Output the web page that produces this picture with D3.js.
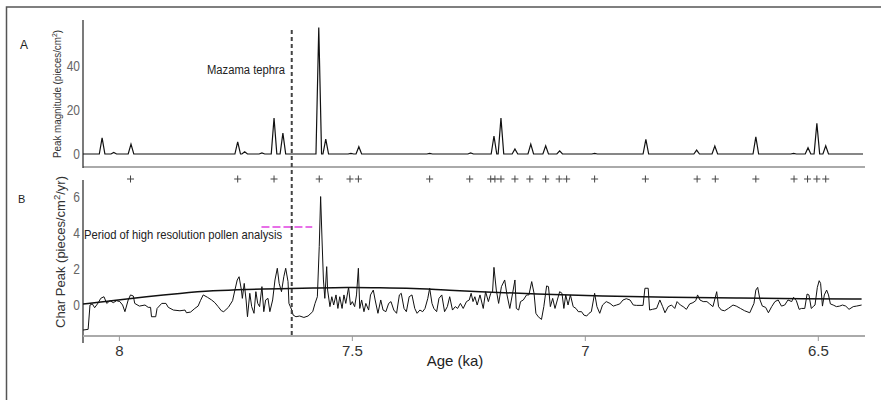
<!DOCTYPE html>
<html lang="en">
<head>
<meta charset="UTF-8" />
<title>Charcoal peaks</title>
<script src="https://d3js.org/d3.v7.min.js"></script>
<style>
  html, body { margin: 0; padding: 0; background: #fff; }
  svg { display: block; }
  text { font-family: "Liberation Sans", Arial, sans-serif; }
</style>
</head>
<body>
<svg id="chart" width="881" height="400"></svg>
<script>
// == DATA ==
// x domain (age, ka), reversed: old on the left
const ageDomain = [8.077, 6.403];
const ageTicks = [8, 7.5, 7, 6.5];

// panel A: peak magnitudes (pieces/cm2)
const peakAges = [8.036, 8.011, 7.974, 7.745, 7.730, 7.693, 7.667, 7.648, 7.571, 7.556, 7.502, 7.485,
  7.333, 7.245, 7.195, 7.180, 7.150, 7.116, 7.084, 7.054, 6.979, 6.869, 6.760, 6.721, 6.633,
  6.552, 6.521, 6.502, 6.483];
const peakMags = [7.3, 0.7, 4.5, 5.5, 1.0, 0.5, 16.4, 9.5, 57.5, 6.8, 0.3, 3.3,
  0.3, 0.5, 8.2, 16.4, 2.3, 4.5, 3.7, 1.4, 0.3, 6.7, 1.8, 3.6, 7.8,
  0.3, 2.9, 14.0, 3.7];
const magTicks = [0, 20, 40];

// significant peak markers (+)
const markerAges = [7.975, 7.745, 7.667, 7.570, 7.504, 7.486, 7.333, 7.247, 7.202, 7.193, 7.180,
  7.150, 7.118, 7.084, 7.055, 7.039, 6.979, 6.870, 6.759, 6.720, 6.633, 6.551, 6.522, 6.502, 6.483];

// panel B: charcoal peak series [age, value]
const charSeries = [
  [8.077,-1.39],[8.066,-1.35],[8.062,0.00],[8.057,0.06],[8.052,-0.15],[8.044,0.13],[8.039,0.37],[8.032,0.46],
  [8.026,0.09],[8.019,0.24],[8.012,0.13],[8.005,0.24],[7.998,0.19],[7.992,0.00],[7.987,-0.37],[7.980,0.28],
  [7.975,0.56],[7.969,0.50],[7.966,0.09],[7.956,-0.06],[7.944,0.00],[7.937,-0.13],[7.932,-0.13],[7.930,-0.65],
  [7.921,-0.65],[7.918,-0.19],[7.908,0.09],[7.899,0.09],[7.894,-0.13],[7.883,-0.28],[7.869,-0.32],[7.858,-0.28],
  [7.855,-0.43],[7.846,-0.39],[7.837,-0.19],[7.830,-0.06],[7.825,0.24],[7.819,0.56],[7.810,0.43],[7.801,0.28],
  [7.794,0.13],[7.787,-0.09],[7.780,-0.32],[7.775,-0.37],[7.765,-0.13],[7.756,0.24],[7.751,0.83],[7.746,1.39],
  [7.742,1.57],[7.737,0.83],[7.735,0.37],[7.731,1.20],[7.727,0.28],[7.724,-0.65],[7.719,0.65],[7.715,-0.09],
  [7.710,-0.46],[7.706,0.74],[7.702,0.09],[7.698,-0.09],[7.693,1.02],[7.689,-0.37],[7.685,0.28],[7.680,0.37],
  [7.676,-0.37],[7.670,0.28],[7.665,1.39],[7.660,2.04],[7.656,1.20],[7.651,0.74],[7.646,1.57],[7.642,2.04],
  [7.637,1.30],[7.635,0.09],[7.632,-0.09],[7.629,-0.28],[7.626,-0.56],[7.620,-0.65],[7.612,-0.61],[7.603,-0.69],
  [7.594,-0.61],[7.584,-0.37],[7.579,0.09],[7.574,0.46],[7.570,3.24],[7.567,6.02],[7.564,3.61],[7.561,1.39],
  [7.558,0.37],[7.554,2.13],[7.552,0.83],[7.547,-0.09],[7.543,0.46],[7.539,0.00],[7.534,0.56],[7.530,-0.19],
  [7.526,0.46],[7.521,-0.19],[7.517,0.56],[7.513,0.09],[7.507,0.98],[7.503,0.00],[7.499,0.19],[7.494,-0.09],
  [7.490,0.56],[7.486,2.04],[7.483,-0.19],[7.479,0.28],[7.474,-0.37],[7.470,0.09],[7.464,-0.28],[7.460,0.56],
  [7.454,0.83],[7.450,0.28],[7.444,-0.46],[7.438,0.28],[7.433,-0.28],[7.427,-0.37],[7.421,0.09],[7.416,0.19],
  [7.410,-0.28],[7.404,-0.46],[7.398,0.56],[7.394,0.65],[7.388,-0.19],[7.383,-0.37],[7.377,0.46],[7.371,0.56],
  [7.365,-0.19],[7.360,-0.46],[7.354,-0.28],[7.348,-0.37],[7.343,-0.19],[7.337,0.37],[7.333,0.93],[7.328,0.09],
  [7.324,-0.19],[7.318,-0.37],[7.313,0.37],[7.307,0.56],[7.301,-0.37],[7.295,-0.09],[7.290,0.46],[7.284,-0.28],
  [7.278,-0.09],[7.273,-0.19],[7.267,0.09],[7.261,-0.19],[7.254,0.19],[7.248,0.28],[7.244,0.65],[7.240,0.19],
  [7.236,0.46],[7.231,0.00],[7.225,0.56],[7.218,-0.19],[7.213,0.74],[7.207,0.19],[7.202,0.65],[7.198,0.74],
  [7.195,2.09],[7.190,0.83],[7.185,0.09],[7.179,1.02],[7.172,1.39],[7.167,0.56],[7.161,-0.19],[7.155,0.65],
  [7.150,1.39],[7.147,-0.19],[7.142,-0.28],[7.138,0.19],[7.132,0.28],[7.125,0.56],[7.120,0.56],[7.114,1.30],
  [7.109,0.65],[7.105,-0.46],[7.100,-0.65],[7.093,-0.80],[7.088,-0.09],[7.082,1.06],[7.078,1.02],[7.074,-0.09],
  [7.069,0.37],[7.064,-0.19],[7.059,0.28],[7.054,0.74],[7.049,0.65],[7.045,-0.19],[7.041,0.56],[7.036,0.00],
  [7.031,0.56],[7.025,-0.09],[7.019,-0.19],[7.014,-0.37],[7.007,-0.37],[7.002,-0.56],[6.996,-0.61],[6.991,-0.46],
  [6.986,-0.37],[6.979,0.65],[6.974,-0.09],[6.968,-0.46],[6.962,0.00],[6.954,0.19],[6.946,0.09],[6.939,-0.06],
  [6.932,0.00],[6.925,0.06],[6.918,0.28],[6.911,0.35],[6.903,0.28],[6.896,0.00],[6.889,-0.02],[6.875,-0.02],
  [6.871,0.93],[6.864,0.93],[6.861,-0.28],[6.855,-0.24],[6.846,-0.19],[6.839,0.28],[6.833,-0.09],[6.828,-0.43],
  [6.821,-0.09],[6.814,0.00],[6.807,-0.19],[6.802,0.19],[6.795,0.00],[6.789,-0.09],[6.782,-0.24],[6.775,0.06],
  [6.768,0.13],[6.762,0.24],[6.758,0.56],[6.753,0.28],[6.746,0.19],[6.738,0.19],[6.732,0.06],[6.725,-0.09],
  [6.717,0.74],[6.713,-0.09],[6.707,-0.28],[6.700,-0.32],[6.692,-0.19],[6.682,0.00],[6.675,-0.06],[6.666,-0.19],
  [6.657,-0.32],[6.646,-0.43],[6.637,0.09],[6.633,0.83],[6.629,0.98],[6.624,0.28],[6.619,-0.06],[6.612,-0.13],
  [6.606,-0.43],[6.599,-0.09],[6.592,0.19],[6.585,0.28],[6.578,-0.06],[6.571,0.00],[6.564,0.28],[6.556,0.19],
  [6.552,0.43],[6.546,0.24],[6.540,-0.24],[6.535,-0.19],[6.528,-0.19],[6.523,0.61],[6.519,0.56],[6.514,-0.19],
  [6.510,-0.09],[6.506,0.00],[6.501,0.98],[6.497,1.35],[6.494,1.20],[6.490,-0.06],[6.486,0.56],[6.481,0.83],
  [6.477,0.56],[6.473,0.06],[6.467,0.00],[6.460,-0.09],[6.453,-0.06],[6.447,0.00],[6.440,-0.06],[6.433,-0.24],
  [6.424,-0.09],[6.417,-0.06],[6.406,0.00]
];

// panel B: background (smoothed) curve
const backgroundSeries = [
  [8.077,0.06],[8.012,0.24],[7.941,0.46],[7.869,0.65],[7.798,0.80],[7.726,0.87],[7.655,0.91],[7.583,0.94],
  [7.511,0.98],[7.440,0.96],[7.368,0.93],[7.297,0.83],[7.236,0.74],[7.104,0.61],[6.961,0.50],[6.818,0.43],
  [6.675,0.39],[6.531,0.35],[6.406,0.33]
];
const charTicks = [0, 2, 4, 6];

const mazamaAge = 7.629;
const pollenPeriod = [7.694, 7.585];
const pollenLevel = 4.33;

// == LAYOUT ==
const svg = d3.select("#chart");

const x = d3.scaleLinear().domain(ageDomain).range([83, 863]);
const yA = d3.scaleLinear().domain([-5.9, 60.9]).range([167, 20]);
const yB = d3.scaleLinear().domain([-1.72, 6.94]).range([336, 180]);

// squeeze a text element to a given width (the original uses a narrow face)
function fitWidth(sel, w) {
  sel.attr("textLength", w).attr("lengthAdjust", "spacingAndGlyphs");
}

// outer frame (top and left edges only)
svg.append("path")
  .attr("d", "M6.5,400 L6.5,7 L881,7")
  .attr("fill", "none").attr("stroke", "#555").attr("stroke-width", 1.5);

// panel letters
svg.append("text").attr("x", 20).attr("y", 49)
  .attr("font-size", 12).attr("fill", "#222").text("A");
svg.append("text").attr("x", 18).attr("y", 203)
  .attr("font-size", 11).attr("fill", "#222").text("B");

// == PANEL A ==
const gA = svg.append("g");

gA.append("line").attr("x1", 83).attr("x2", 865).attr("y1", 167).attr("y2", 167)
  .attr("stroke", "#aaa").attr("stroke-width", 2);
gA.append("line").attr("x1", 83).attr("x2", 83).attr("y1", 20).attr("y2", 168)
  .attr("stroke", "#333").attr("stroke-width", 1.3);

const axA = gA.append("g").attr("transform", "translate(80,0)")
  .call(d3.axisLeft(yA).tickValues(magTicks).tickSize(0).tickPadding(0));
axA.select(".domain").remove();
axA.selectAll("text").attr("font-size", 15).attr("fill", "#666")
  .attr("transform", "scale(0.8,1)");

// build spikes from the peak list
const peakHalf = 0.006;
const peakPts = [[ageDomain[0], 0]];
peakAges.forEach((a, i) => {
  peakPts.push([a + peakHalf, 0], [a, peakMags[i]], [a - peakHalf, 0]);
});
peakPts.push([ageDomain[1], 0]);

gA.append("path")
  .datum(peakPts)
  .attr("fill", "none").attr("stroke", "#111").attr("stroke-width", 1.2)
  .attr("d", d3.line().x(d => x(d[0])).y(d => yA(d[1])));

gA.append("text")
  .attr("transform", "translate(61,94) rotate(-90)")
  .attr("text-anchor", "middle").attr("font-size", 11.5).attr("fill", "#333")
  .html('Peak magnitude (pieces/cm<tspan dy="-4" font-size="8">2</tspan><tspan dy="4">)</tspan>')
  .call(fitWidth, 128);

gA.append("text")
  .attr("x", 207).attr("y", 74)
  .attr("font-size", 12.5).attr("fill", "#222").text("Mazama tephra")
  .call(fitWidth, 78);

// + markers
svg.append("g").selectAll("path.mk")
  .data(markerAges).join("path")
  .attr("class", "mk")
  .attr("d", d => `M${x(d) - 3.5},179 h7 M${x(d)},175.5 v7`)
  .attr("stroke", "#444").attr("stroke-width", 1).attr("fill", "none");

// == PANEL B ==
const gB = svg.append("g");

gB.append("line").attr("x1", 83).attr("x2", 83).attr("y1", 180).attr("y2", 343)
  .attr("stroke", "#333").attr("stroke-width", 1.3);

const axX = gB.append("g").attr("transform", "translate(0,336)")
  .call(d3.axisBottom(x).tickValues(ageTicks).tickFormat(d => String(d)).tickSize(5).tickPadding(4));
axX.select(".domain").attr("d", "M83,0H865").attr("stroke", "#aaa").attr("stroke-width", 2);
axX.selectAll(".tick line").attr("stroke", "#999");
axX.selectAll("text").attr("font-size", 15).attr("fill", "#333");

const axB = gB.append("g").attr("transform", "translate(80,0)")
  .call(d3.axisLeft(yB).tickValues(charTicks).tickSize(0).tickPadding(0));
axB.select(".domain").remove();
axB.selectAll("text").attr("font-size", 15).attr("fill", "#666")
  .attr("transform", "scale(0.8,1)");

gB.append("text")
  .attr("transform", "translate(64.5,252) rotate(-90)")
  .attr("text-anchor", "middle").attr("font-size", 13).attr("fill", "#333")
  .html('Char Peak (pieces/cm<tspan dy="-5" font-size="9.5">2</tspan><tspan dy="5">/yr)</tspan>')
  .call(fitWidth, 152);

gB.append("text")
  .attr("x", 455).attr("y", 366).attr("text-anchor", "middle")
  .attr("font-size", 15).attr("fill", "#222").text("Age (ka)");

// charcoal series
gB.append("path")
  .datum(charSeries)
  .attr("fill", "none").attr("stroke", "#111").attr("stroke-width", 1)
  .attr("stroke-linejoin", "round")
  .attr("d", d3.line().x(d => x(d[0])).y(d => yB(d[1])));

// background curve
gB.append("path")
  .datum(backgroundSeries)
  .attr("fill", "none").attr("stroke", "#111").attr("stroke-width", 1.5)
  .attr("d", d3.line().curve(d3.curveBasis).x(d => x(d[0])).y(d => yB(d[1])));

// pollen period marker
gB.append("line")
  .attr("x1", x(pollenPeriod[0])).attr("x2", x(pollenPeriod[1]))
  .attr("y1", yB(pollenLevel)).attr("y2", yB(pollenLevel))
  .attr("stroke", "#e040e0").attr("stroke-width", 1.5).attr("stroke-dasharray", "8,3");

gB.append("text")
  .attr("x", 84).attr("y", 239)
  .attr("font-size", 13).attr("fill", "#222").text("Period of high resolution pollen analysis")
  .call(fitWidth, 198);

// Mazama tephra line across both panels
svg.append("line")
  .attr("x1", x(mazamaAge)).attr("x2", x(mazamaAge))
  .attr("y1", 30).attr("y2", 336)
  .attr("stroke", "#444").attr("stroke-width", 2).attr("stroke-dasharray", "4,3");
</script>
</body>
</html>
